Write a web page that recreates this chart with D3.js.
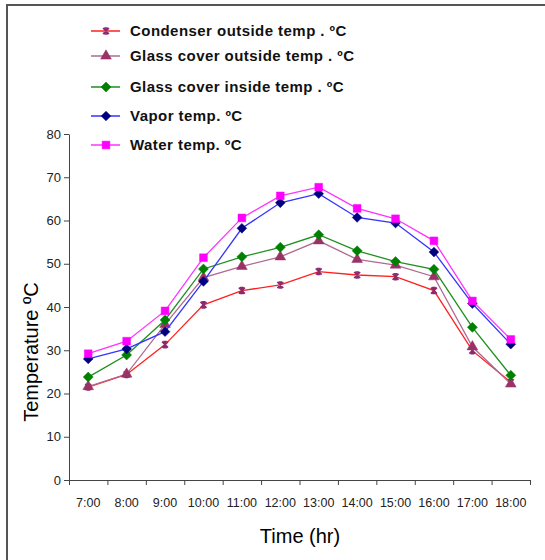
<!DOCTYPE html>
<html>
<head>
<meta charset="utf-8">
<script src="https://cdn.jsdelivr.net/npm/d3@7"></script>
<style>
  body { margin: 0; background: #fff; }
  svg { display: block; font-family: Arial, "Liberation Sans", sans-serif; }
</style>
</head>
<body>
<div id="chart"></div>
<script>
const hours = ["7:00", "8:00", "9:00", "10:00", "11:00", "12:00", "13:00", "14:00", "15:00", "16:00", "17:00", "18:00"]

const condenserOutside = [21.5, 24.4, 31.3, 40.5, 43.8, 45.1, 48.2, 47.4, 47.0, 43.8, 29.9, 22.6]
const glassOutside     = [21.6, 24.5, 36.0, 46.8, 49.4, 51.6, 55.3, 51.0, 49.7, 47.0, 30.8, 22.2]
const glassInside      = [23.8, 28.9, 37.0, 48.8, 51.6, 53.8, 56.7, 53.0, 50.5, 48.7, 35.3, 24.2]
const vaporTemp        = [28.0, 30.3, 34.3, 45.9, 58.2, 64.1, 66.2, 60.7, 59.4, 52.7, 40.8, 31.4]
const waterTemp        = [29.2, 32.1, 39.1, 51.4, 60.6, 65.7, 67.7, 62.8, 60.4, 55.3, 41.4, 32.5]

const yTicks = [0, 10, 20, 30, 40, 50, 60, 70, 80]

// excel-ish "star" marker: an x with a vertical bar
const starMarker = {
    draw(ctx, size) {
        const r = Math.sqrt(size) / 2
        ctx.moveTo(-r, -r); ctx.lineTo(r, r)
        ctx.moveTo(r, -r); ctx.lineTo(-r, r)
        ctx.moveTo(0, -r); ctx.lineTo(0, r)
        ctx.moveTo(-r * 0.6, -r); ctx.lineTo(r * 0.6, -r)
        ctx.moveTo(-r * 0.6, r); ctx.lineTo(r * 0.6, r)
    }
}

// square turned 45 degrees, like the office diamond marker
const squareDiamond = {
    draw(ctx, size) {
        const r = Math.sqrt(size) / 2
        ctx.moveTo(0, -r); ctx.lineTo(r, 0); ctx.lineTo(0, r); ctx.lineTo(-r, 0); ctx.closePath()
    }
}

const series = [
    {name: "Condenser outside temp . ºC", values: condenserOutside, line: "#ff2020", marker: "#8b2a6e", symbol: starMarker, size: 36, stroked: true},
    {name: "Glass cover outside temp . ºC", values: glassOutside, line: "#b06a92", marker: "#993366", symbol: d3.symbolTriangle, size: 50},
    {name: "Glass cover inside temp . ºC", values: glassInside, line: "#1f8f1f", marker: "#008000", symbol: squareDiamond, size: 100},
    {name: "Vapor temp. ºC", values: vaporTemp, line: "#3333ff", marker: "#000080", symbol: squareDiamond, size: 95},
    {name: "Water temp. ºC", values: waterTemp, line: "#ff33ff", marker: "#ff00ff", symbol: d3.symbolSquare, size: 60}
]

const W = 545, H = 560
const plot = {left: 69, right: 530, top: 134, bottom: 480}

const svg = d3.select("#chart").append("svg")
    .attr("width", W)
    .attr("height", H)

// outer frame (top and left edges visible)
svg.append("path")
    .attr("d", `M7,${H} V5 H${W}`)
    .attr("fill", "none")
    .attr("stroke", "#555")
    .attr("stroke-width", 2)

const x = d3.scaleBand()
    .domain(hours)
    .range([plot.left, plot.right])

const xTickScale = d3.scaleLinear()
    .domain([0, hours.length])
    .range([plot.left, plot.right])

const y = d3.scaleLinear()
    .domain([0, 80])
    .range([plot.bottom, plot.top])

const yAxis = svg.append("g")
    .attr("transform", `translate(${plot.left},0)`)
    .call(d3.axisLeft(y).tickValues(yTicks).tickSize(5).tickSizeOuter(0))
yAxis.select(".domain").attr("stroke", "#444")
yAxis.selectAll(".tick line").attr("stroke", "#444")
yAxis.selectAll("text")
    .attr("font-size", 13)
    .attr("fill", "#222")
    .attr("x", -8)

const xTicks = svg.append("g")
    .attr("transform", `translate(0,${plot.bottom})`)
    .call(d3.axisBottom(xTickScale).ticks(hours.length).tickSize(5).tickSizeOuter(0).tickFormat(""))
xTicks.select(".domain").attr("stroke", "#444")
xTicks.selectAll(".tick line").attr("stroke", "#444")

const xLabels = svg.append("g")
    .attr("transform", `translate(0,${plot.bottom})`)
    .call(d3.axisBottom(x).tickSize(0))
xLabels.select(".domain").remove()
xLabels.selectAll("text")
    .attr("font-size", 12.5)
    .attr("fill", "#222")
    .attr("dy", "0")
    .attr("y", 27)

svg.append("text")
    .attr("x", 300)
    .attr("y", 543)
    .attr("text-anchor", "middle")
    .attr("font-size", 20)
    .text("Time (hr)")

svg.append("text")
    .attr("transform", `translate(38,352) rotate(-90)`)
    .attr("text-anchor", "middle")
    .attr("font-size", 20)
    .text("Temperature ºC")

const line = d3.line()
    .x((d, i) => x(hours[i]) + x.bandwidth() / 2)
    .y(d => y(d))

const drawMarker = (g, s) => g.append("path")
    .attr("d", d3.symbol(s.symbol, s.size)())
    .attr("fill", s.stroked ? "none" : s.marker)
    .attr("stroke", s.marker)
    .attr("stroke-width", s.stroked ? 1.6 : 0.5)

series.forEach(s => {
    svg.append("path")
        .datum(s.values)
        .attr("fill", "none")
        .attr("stroke", s.line)
        .attr("stroke-width", 1.3)
        .attr("d", line)

    s.values.forEach((v, i) => {
        const g = svg.append("g")
            .attr("transform", `translate(${x(hours[i]) + x.bandwidth() / 2},${y(v)})`)
        drawMarker(g, s)
    })
})

// legend
const legendRows = [31, 56, 87, 116, 145]
series.forEach((s, i) => {
    const row = svg.append("g").attr("transform", `translate(0,${legendRows[i]})`)
    row.append("line")
        .attr("x1", 91).attr("x2", 120)
        .attr("stroke", s.line)
        .attr("stroke-width", 1.5)
    drawMarker(row.append("g").attr("transform", "translate(106,0)"), s)
    row.append("text")
        .attr("x", 130)
        .attr("dy", "0.36em")
        .attr("font-size", 15)
        .attr("font-weight", "bold")
        .attr("letter-spacing", 0.45)
        .attr("fill", "#111")
        .text(s.name)
})
</script>
</body>
</html>
